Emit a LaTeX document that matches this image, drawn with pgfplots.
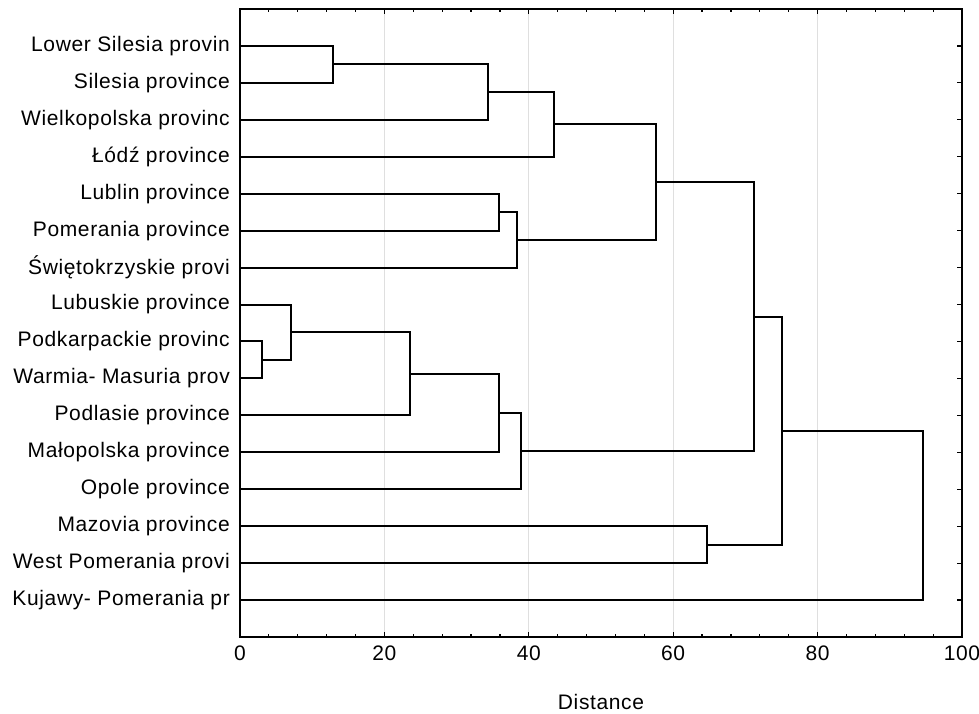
\documentclass[border=0pt]{standalone}
\usepackage{fontspec}
\setmainfont{Liberation Sans}[LetterSpace=3]
\usepackage{pgfplots}
\pgfplotsset{compat=1.18}
\begin{document}
\begin{tikzpicture}
\fontsize{21pt}{25pt}\selectfont
\path[use as bounding box] (-240pt,-76pt) rectangle (739pt,637pt);
\begin{axis}[
  at={(0pt,0pt)}, anchor=south west,
  scale only axis, width=722pt, height=628pt,
  xmin=0, xmax=100, ymin=0, ymax=17, y dir=reverse,
  xtick={0,20,...,100}, minor x tick num=4,
  ytick={1,...,16},
  yticklabels={Lower Silesia provin, Silesia province, Wielkopolska provinc, Łódź province, Lublin province, Pomerania province, Świętokrzyskie provi, Lubuskie province, Podkarpackie provinc, Warmia- Masuria prov, Podlasie province, Małopolska province, Opole province, Mazovia province, West Pomerania provi, Kujawy- Pomerania pr},
  tick align=inside, xtick pos=both, ytick pos=both,
  major tick length=5pt, minor tick length=3pt,
  tick style={black, line width=1.2pt},
  axis line style={line width=2pt},
  xmajorgrids, major grid style={gray!25, line width=1pt},
  /pgf/number format/assume math mode=true,
  ticklabel style={font=\fontsize{21pt}{25pt}\selectfont, inner sep=0pt},
  yticklabel style={xshift=-10pt},
  xticklabel style={yshift=-9pt},
  xlabel={Distance},
  xlabel style={at={(axis description cs:0.5,0)}, anchor=north, yshift=-57pt, inner sep=0pt, font=\fontsize{21pt}{25pt}\selectfont},
  cycle list={{black, solid, mark=none}},
  every axis plot post/.append style={line width=2pt, line join=miter},
]
% m1: Lower Silesia + Silesia
\addplot coordinates {(0,1) (12.9,1) (12.9,2) (0,2)};
% m2: + Wielkopolska
\addplot coordinates {(12.9,1.5) (34.4,1.5) (34.4,3) (0,3)};
% m3: + Lodz
\addplot coordinates {(34.4,2.25) (43.5,2.25) (43.5,4) (0,4)};
% m4: Lublin + Pomerania
\addplot coordinates {(0,5) (35.9,5) (35.9,6) (0,6)};
% m5: + Swietokrzyskie
\addplot coordinates {(35.9,5.5) (38.4,5.5) (38.4,7) (0,7)};
% m6
\addplot coordinates {(43.5,3.125) (57.6,3.125) (57.6,6.25) (38.4,6.25)};
% m7: Podkarpackie + Warmia
\addplot coordinates {(0,9) (3.0,9) (3.0,10) (0,10)};
% m8: Lubuskie + m7
\addplot coordinates {(0,8) (7.0,8) (7.0,9.5) (3.0,9.5)};
% m9: + Podlasie
\addplot coordinates {(7.0,8.75) (23.6,8.75) (23.6,11) (0,11)};
% m10: + Malopolska
\addplot coordinates {(23.6,9.875) (35.9,9.875) (35.9,12) (0,12)};
% m11: + Opole
\addplot coordinates {(35.9,10.9375) (38.9,10.9375) (38.9,13) (0,13)};
% m12
\addplot coordinates {(57.6,4.6875) (71.2,4.6875) (71.2,11.96875) (38.9,11.96875)};
% m13: Mazovia + West Pomerania
\addplot coordinates {(0,14) (64.7,14) (64.7,15) (0,15)};
% m14
\addplot coordinates {(71.2,8.328) (75.1,8.328) (75.1,14.5) (64.7,14.5)};
% m15: + Kujawy
\addplot coordinates {(75.1,11.414) (94.6,11.414) (94.6,16) (0,16)};
\end{axis}
\end{tikzpicture}
\end{document}
